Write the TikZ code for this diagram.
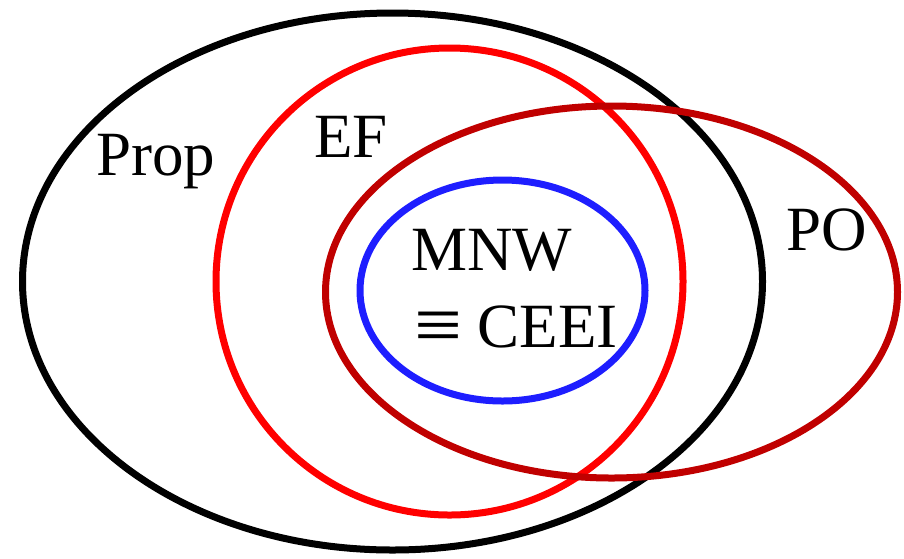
\documentclass[tikz,border=0pt]{standalone}
\usepackage{fontspec}
\usepackage{graphicx}
\setmainfont{Liberation Serif}
\begin{document}
\begin{tikzpicture}[x=1pt,y=-1pt,
  setline/.style={line width=7pt},
  lbl/.style={anchor=base west,inner sep=0pt,font=\fontsize{63}{63}\selectfont}]
\definecolor{podark}{RGB}{192,0,0}
\definecolor{mnwblue}{RGB}{30,30,255}
\useasboundingbox (0,0) rectangle (904,558);
\draw[setline,black] (392.5,281.5) ellipse [x radius=370, y radius=268.5];
\draw[setline,red] (449.5,281.5) ellipse [x radius=233.5, y radius=233.5];
\draw[setline,podark] (611.5,292) ellipse [x radius=286, y radius=186];
\draw[setline,mnwblue] (502.5,290.5) ellipse [x radius=142.5, y radius=110.5];
\node[lbl] (prop) at (96,175) {Prop};
\node[lbl] (ef) at (314,157) {EF};
\node[lbl] (po) at (786,250) {PO};
\node[lbl] (mnw) at (411,270) {MNW};
\node[lbl] (ceei) at (414,347) {\raisebox{-4pt}{\scalebox{1.35}[1.25]{≡}} CEEI};
\end{tikzpicture}
\end{document}
